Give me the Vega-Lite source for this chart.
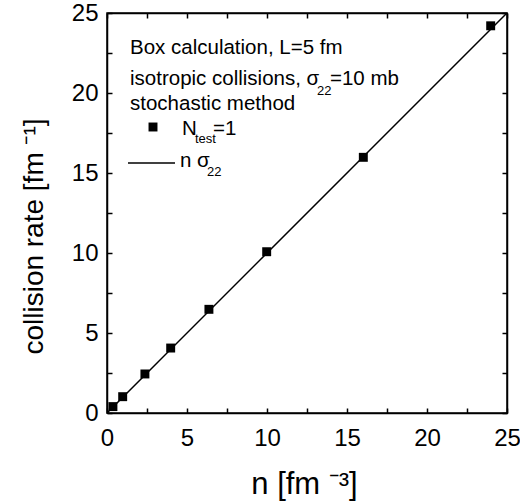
{
  "$schema": "https://vega.github.io/schema/vega-lite/v6.json",
  "width": 400,
  "height": 400,
  "autosize": {"type": "none"},
  "padding": {"left": 107, "top": 13, "right": 13, "bottom": 88},
  "background": "white",
  "data": {"values": [{}]},
  "config": {
    "font": "Liberation Sans",
    "view": {"stroke": "black", "strokeWidth": 1.5},
    "axis": {
      "domainColor": "black",
      "domainWidth": 1.5,
      "tickColor": "black",
      "tickWidth": 1.5,
      "tickSize": -5,
      "grid": false,
      "labelColor": "black",
      "labelFont": "Liberation Sans",
      "labelFontSize": 24,
      "titleColor": "black",
      "titleFont": "Liberation Sans",
      "titleFontSize": 31,
      "titleFontWeight": "normal"
    },
    "text": {"font": "Liberation Sans", "color": "black", "align": "left", "baseline": "alphabetic"}
  },
  "resolve": {"axis": {"x": "independent", "y": "independent"}},
  "layer": [
    {
      "data": {"values": [{"n": 0, "rate": 0}, {"n": 25, "rate": 25}]},
      "mark": {"type": "line", "color": "black", "strokeWidth": 1.5, "clip": true},
      "encoding": {
        "x": {
          "field": "n", "type": "quantitative",
          "scale": {"domain": [0, 25], "nice": false, "zero": false},
          "axis": {
            "orient": "bottom",
            "values": [0, 2.5, 5, 7.5, 10, 12.5, 15, 17.5, 20, 22.5, 25],
            "labelExpr": "datum.value % 5 === 0 ? datum.label : ''",
            "labelPadding": 18,
            "labelFlush": false,
            "labelOverlap": false,
            "title": "n [fm ⁻³]",
            "titleX": 197,
            "titleY": 80,
            "titleAlign": "center",
            "titleBaseline": "alphabetic"
          }
        },
        "y": {
          "field": "rate", "type": "quantitative",
          "scale": {"domain": [0, 25], "nice": false, "zero": false},
          "axis": {
            "orient": "left",
            "values": [0, 2.5, 5, 7.5, 10, 12.5, 15, 17.5, 20, 22.5, 25],
            "labelExpr": "datum.value % 5 === 0 ? datum.label : ''",
            "labelPadding": 14,
            "labelFlush": false,
            "labelOverlap": false,
            "title": "collision rate [fm ⁻¹]",
            "titleFontSize": 28,
            "titleX": -65,
            "titleY": 223,
            "titleAngle": -90,
            "titleAlign": "center",
            "titleBaseline": "alphabetic"
          }
        }
      }
    },
    {
      "data": {"values": [
        {"n": 0.37, "rate": 0.4},
        {"n": 0.98, "rate": 1.02},
        {"n": 2.37, "rate": 2.44},
        {"n": 3.98, "rate": 4.06},
        {"n": 6.37, "rate": 6.48},
        {"n": 9.98, "rate": 10.08},
        {"n": 16.02, "rate": 15.98},
        {"n": 23.98, "rate": 24.2}
      ]},
      "mark": {"type": "point", "shape": "square", "filled": true, "color": "black", "opacity": 1, "size": 80},
      "encoding": {
        "x": {
          "field": "n", "type": "quantitative",
          "axis": {
            "orient": "top",
            "values": [0, 2.5, 5, 7.5, 10, 12.5, 15, 17.5, 20, 22.5, 25],
            "labels": false,
            "title": null
          }
        },
        "y": {
          "field": "rate", "type": "quantitative",
          "axis": {
            "orient": "right",
            "values": [0, 2.5, 5, 7.5, 10, 12.5, 15, 17.5, 20, 22.5, 25],
            "labels": false,
            "title": null
          }
        }
      }
    },
    {
      "mark": {"type": "text", "fontSize": 20.5, "text": "Box calculation, L=5 fm"},
      "encoding": {"x": {"datum": 1.4375, "type": "quantitative", "axis": null}, "y": {"datum": 22.4375, "type": "quantitative", "axis": null}}
    },
    {
      "mark": {"type": "text", "fontSize": 20.5, "text": "isotropic collisions, σ"},
      "encoding": {"x": {"datum": 1.4375, "type": "quantitative", "axis": null}, "y": {"datum": 20.5, "type": "quantitative", "axis": null}}
    },
    {
      "mark": {"type": "text", "fontSize": 13, "text": "22"},
      "encoding": {"x": {"datum": 13.125, "type": "quantitative", "axis": null}, "y": {"datum": 19.875, "type": "quantitative", "axis": null}}
    },
    {
      "mark": {"type": "text", "fontSize": 20.5, "text": "=10 mb"},
      "encoding": {"x": {"datum": 13.9375, "type": "quantitative", "axis": null}, "y": {"datum": 20.5, "type": "quantitative", "axis": null}}
    },
    {
      "mark": {"type": "text", "fontSize": 20.5, "text": "stochastic method"},
      "encoding": {"x": {"datum": 1.4375, "type": "quantitative", "axis": null}, "y": {"datum": 18.9375, "type": "quantitative", "axis": null}}
    },
    {
      "mark": {"type": "point", "shape": "square", "filled": true, "color": "black", "opacity": 1, "size": 80},
      "encoding": {"x": {"datum": 2.875, "type": "quantitative", "axis": null}, "y": {"datum": 17.875, "type": "quantitative", "axis": null}}
    },
    {
      "mark": {"type": "text", "fontSize": 20.5, "text": "N"},
      "encoding": {"x": {"datum": 4.6875, "type": "quantitative", "axis": null}, "y": {"datum": 17.375, "type": "quantitative", "axis": null}}
    },
    {
      "mark": {"type": "text", "fontSize": 13, "text": "test"},
      "encoding": {"x": {"datum": 5.5, "type": "quantitative", "axis": null}, "y": {"datum": 16.875, "type": "quantitative", "axis": null}}
    },
    {
      "mark": {"type": "text", "fontSize": 20.5, "text": "=1"},
      "encoding": {"x": {"datum": 6.625, "type": "quantitative", "axis": null}, "y": {"datum": 17.375, "type": "quantitative", "axis": null}}
    },
    {
      "mark": {"type": "rule", "color": "black", "strokeWidth": 1.5},
      "encoding": {
        "x": {"datum": 1.3125, "type": "quantitative", "axis": null},
        "x2": {"datum": 4.25},
        "y": {"datum": 15.625, "type": "quantitative", "axis": null}
      }
    },
    {
      "mark": {"type": "text", "fontSize": 20.5, "text": "n σ"},
      "encoding": {"x": {"datum": 4.5625, "type": "quantitative", "axis": null}, "y": {"datum": 15.375, "type": "quantitative", "axis": null}}
    },
    {
      "mark": {"type": "text", "fontSize": 13, "text": "22"},
      "encoding": {"x": {"datum": 6.25, "type": "quantitative", "axis": null}, "y": {"datum": 14.8125, "type": "quantitative", "axis": null}}
    }
  ]
}
